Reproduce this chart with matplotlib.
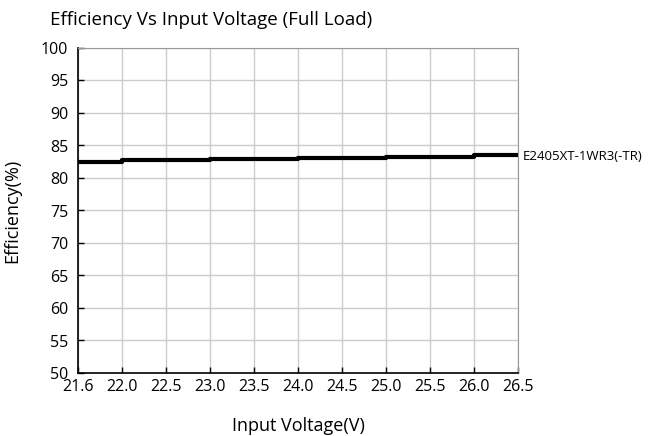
import matplotlib
matplotlib.use('Agg')
import matplotlib.pyplot as plt

# data
voltages = ['21.6', '22.0', '22.5', '23.0', '23.5', '24.0', '24.5', '25.0', '25.5', '26.0', '26.5']
efficiency = [82.5, 82.7, 82.75, 82.85, 82.95, 83.05, 83.1, 83.2, 83.25, 83.55, 83.55]
series_name = 'E2405XT-1WR3(-TR)'
y_ticks = list(range(50, 101, 5))

plt.rcParams['font.family'] = ['Open Sans', 'DejaVu Sans']

fig = plt.figure(figsize=(6.6, 4.36), dpi=100)
ax = fig.add_axes([78 / 660, 1 - 373 / 436, 440 / 660, 325 / 436])

pos = list(range(len(voltages)))
ax.plot(pos, efficiency, color='black', lw=3, drawstyle='steps-post', solid_capstyle='butt')
ax.text(pos[-1] + 0.1, efficiency[-1] - 0.3, series_name, ha='left', va='center', fontsize=9.5)

ax.set_xlim(0, len(voltages) - 1)
ax.set_ylim(50, 100)
ax.set_xticks(pos)
ax.set_xticklabels(voltages, fontsize=11.5)
ax.set_yticks(y_ticks)
ax.set_yticklabels([str(v) for v in y_ticks], fontsize=11.5)
ax.tick_params(direction='in', length=4, width=1, color='black')
ax.tick_params(axis='x', pad=4)
ax.tick_params(axis='y', pad=7)
ax.grid(True, color='#cccccc', lw=1)
ax.set_axisbelow(True)
for s in ('top', 'right'):
    ax.spines[s].set_color('#999999')
for s in ('left', 'bottom'):
    ax.spines[s].set_color('black')
    ax.spines[s].set_linewidth(1.2)

ax.set_xlabel('Input Voltage(V)', fontsize=13, labelpad=16)
ax.set_ylabel('Efficiency(%)', fontsize=13, labelpad=14)
fig.text(50 / 660, 1 - 20 / 436, 'Efficiency Vs Input Voltage (Full Load)', fontsize=13.5, ha='left', va='center')

fig.savefig('out.png', dpi=100)
